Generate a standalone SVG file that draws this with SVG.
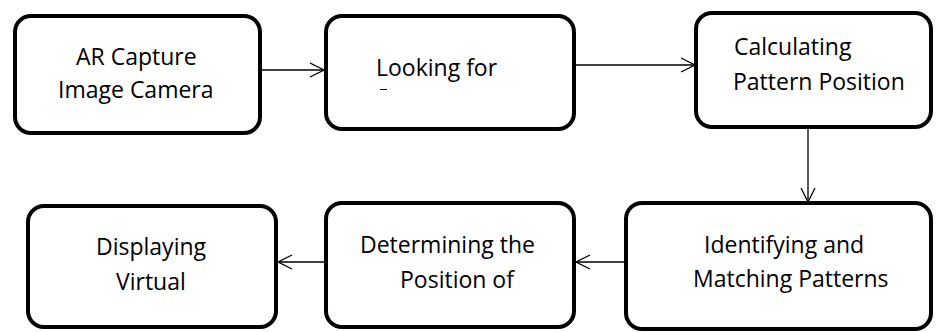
<svg xmlns="http://www.w3.org/2000/svg" width="936" height="332" viewBox="0 0 936 332">
<style>
.box{fill:#fff;stroke:#000;stroke-width:4}
.lbl{font-family:"Open Sans","Noto Sans",sans-serif;font-size:23px;fill:#000}
.con{stroke:#000;stroke-width:1.3;fill:none}
</style>
<defs>
<marker id="ah" viewBox="0 0 16 16" refX="15" refY="8" markerWidth="16" markerHeight="16" markerUnits="userSpaceOnUse" orient="auto">
<path d="M1,1 L15,8 L1,15" fill="none" stroke="#000" stroke-width="1.3"/>
</marker>
</defs>
<rect width="936" height="332" fill="#fff"/>
<g id="connectors">
<line class="con" x1="260" y1="70" x2="324" y2="70" marker-end="url(#ah)"/>
<line class="con" x1="575" y1="65" x2="695" y2="65" marker-end="url(#ah)"/>
<line class="con" x1="808" y1="127" x2="808" y2="202" marker-end="url(#ah)"/>
<line class="con" x1="625" y1="262" x2="576" y2="262" marker-end="url(#ah)"/>
<line class="con" x1="325" y1="262" x2="278" y2="262" marker-end="url(#ah)"/>
</g>
<g id="n1">
<rect class="box" x="15" y="16" width="245" height="117" rx="16"/>
<text class="lbl" x="76" y="65">AR Capture</text>
<text class="lbl" x="58" y="98">Image Camera</text>
</g>
<g id="n2">
<rect class="box" x="326" y="16" width="248" height="113" rx="16"/>
<text class="lbl" x="376" y="76">Looking for</text>
<line x1="380" y1="89.5" x2="387" y2="89.5" stroke="#000" stroke-width="1"/>
</g>
<g id="n3">
<rect class="box" x="696" y="13" width="235" height="114" rx="16"/>
<text class="lbl" x="734" y="55">Calculating</text>
<text class="lbl" x="733" y="90">Pattern Position</text>
</g>
<g id="n4">
<rect class="box" x="28" y="206" width="248" height="121" rx="16"/>
<text class="lbl" x="96" y="255">Displaying</text>
<text class="lbl" x="116" y="290">Virtual</text>
</g>
<g id="n5">
<rect class="box" x="326" y="203" width="248" height="124" rx="16"/>
<text class="lbl" x="360" y="253">Determining the</text>
<text class="lbl" x="400" y="288">Position of</text>
</g>
<g id="n6">
<rect class="box" x="626" y="203" width="305" height="126" rx="16"/>
<text class="lbl" x="704" y="253">Identifying and</text>
<text class="lbl" x="693" y="287">Matching Patterns</text>
</g>
</svg>
